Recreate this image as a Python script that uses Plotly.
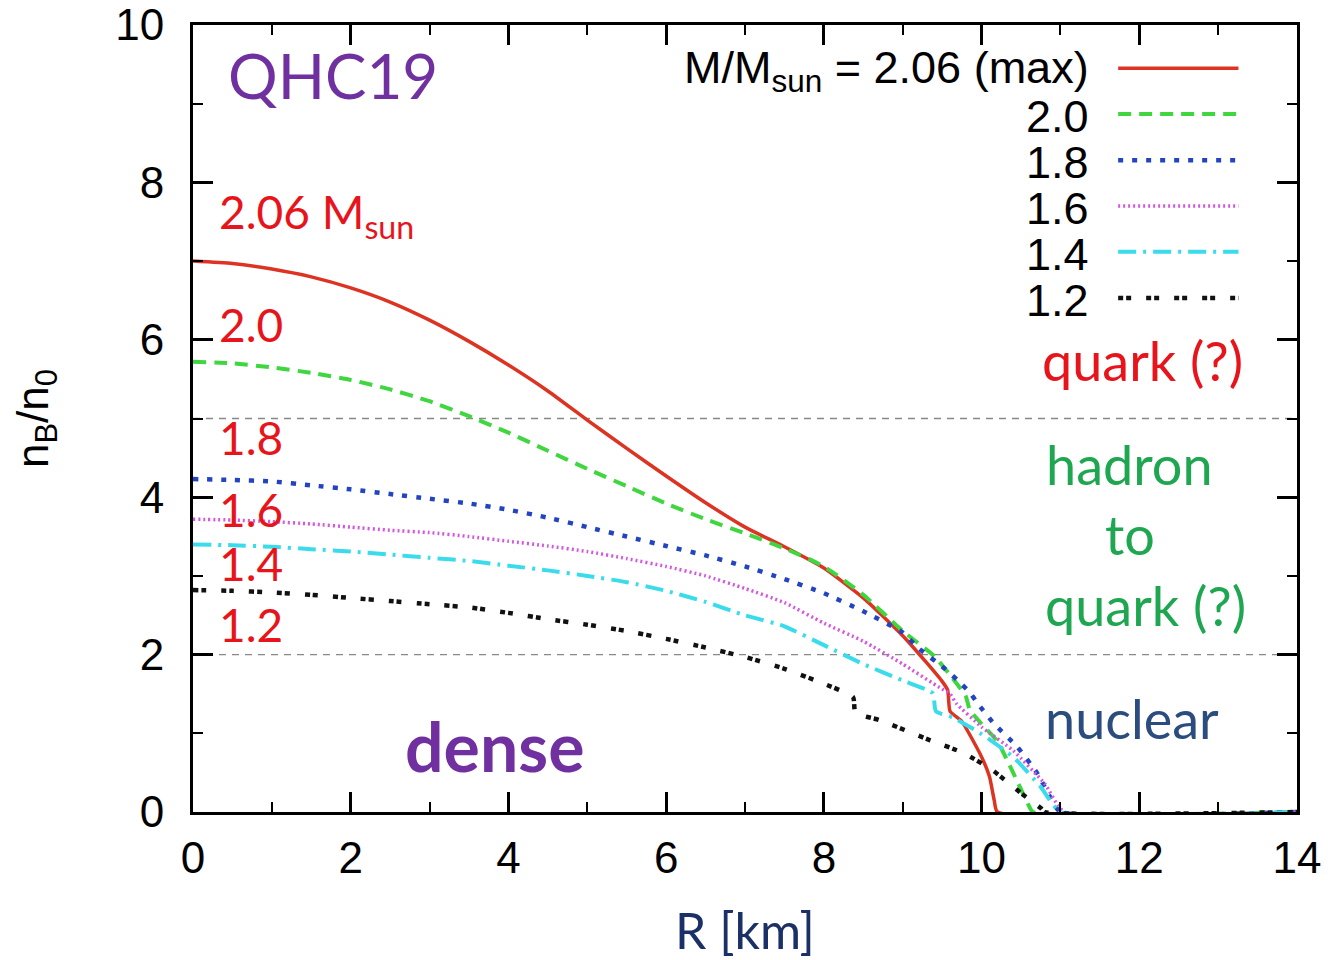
import plotly.graph_objects as go

# ---------------- data ----------------
masses = ["2.06", "2.0", "1.8", "1.6", "1.4", "1.2"]

r_206 = [0, 0.5, 1, 1.5, 2, 2.5, 3, 3.5, 4, 4.5, 5, 5.5, 6, 6.5, 7, 7.5, 8, 8.5, 9, 9.3, 9.5, 9.57, 9.6, 9.75, 10.0, 10.1, 10.16, 10.2, 14]
n_206 = [7.0, 6.97, 6.9, 6.8, 6.66, 6.48, 6.25, 5.98, 5.68, 5.35, 4.98, 4.62, 4.27, 3.93, 3.62, 3.37, 3.1, 2.72, 2.24, 1.9, 1.66, 1.55, 1.28, 1.15, 0.7, 0.45, 0.15, 0, 0]

r_200 = [0, 0.5, 1, 1.5, 2, 2.5, 3, 3.5, 4, 4.5, 5, 5.5, 6, 6.5, 7, 7.5, 8, 8.5, 9, 9.4, 9.6, 9.8, 9.85, 10.0, 10.2, 10.4, 10.6, 10.65, 14]
n_200 = [5.72, 5.7, 5.65, 5.58, 5.49, 5.37, 5.22, 5.03, 4.82, 4.59, 4.36, 4.14, 3.92, 3.72, 3.54, 3.35, 3.12, 2.76, 2.3, 1.98, 1.74, 1.47, 1.3, 1.12, 0.9, 0.5, 0.08, 0, 0]

r_180 = [0, 0.5, 1, 1.5, 2, 2.5, 3, 3.5, 4, 4.5, 5, 5.5, 6, 6.5, 7, 7.5, 8, 8.5, 9, 9.2, 9.5, 9.7, 9.85, 9.95, 10.15, 10.45, 10.7, 10.87, 11.0, 14]
n_180 = [4.23, 4.22, 4.2, 4.15, 4.1, 4.04, 3.98, 3.92, 3.84, 3.74, 3.62, 3.5, 3.38, 3.26, 3.12, 2.96, 2.78, 2.55, 2.28, 2.08, 1.85, 1.67, 1.52, 1.38, 1.13, 0.83, 0.5, 0.19, 0, 0]

r_160 = [0, 0.5, 1, 1.5, 2, 2.5, 3, 3.5, 4, 4.5, 5, 5.5, 6, 6.5, 7, 7.5, 8, 8.5, 9, 9.47, 9.6, 9.68, 10.0, 10.4, 10.8, 11.05, 14]
n_160 = [3.72, 3.71, 3.69, 3.66, 3.62, 3.58, 3.55, 3.5, 3.44, 3.38, 3.31, 3.22, 3.12, 3.0, 2.84, 2.66, 2.4, 2.17, 1.88, 1.58, 1.5, 1.38, 1.08, 0.78, 0.36, 0, 0]

r_140 = [0, 0.5, 1, 1.5, 2, 2.5, 3, 3.5, 4, 4.5, 5, 5.5, 6, 6.5, 7, 7.5, 8, 8.5, 9, 9.38, 9.42, 9.64, 10.0, 10.4, 10.75, 11.0, 14]
n_140 = [3.4, 3.39, 3.37, 3.34, 3.31, 3.27, 3.23, 3.19, 3.13, 3.07, 3.0, 2.92, 2.81, 2.67, 2.5, 2.36, 2.12, 1.88, 1.67, 1.51, 1.28, 1.2, 0.99, 0.7, 0.32, 0, 0]

r_120 = [0, 0.5, 1, 1.5, 2, 2.5, 3, 3.5, 4, 4.5, 5, 5.5, 6, 6.5, 7, 7.5, 8, 8.37, 8.4, 8.7, 9.35, 9.77, 10.14, 10.5, 10.75, 10.8, 14]
n_120 = [2.82, 2.81, 2.79, 2.76, 2.72, 2.68, 2.64, 2.6, 2.53, 2.45, 2.38, 2.3, 2.2, 2.09, 1.97, 1.82, 1.63, 1.46, 1.26, 1.17, 0.91, 0.75, 0.53, 0.24, 0.05, 0, 0]

series_r = [r_206, r_200, r_180, r_160, r_140, r_120]
series_n = [n_206, n_200, n_180, n_160, n_140, n_120]

legend_labels = ["M/M<sub>sun</sub> = 2.06 (max)", "2.0", "1.8", "1.6", "1.4", "1.2"]
curve_labels = ["2.06 M<sub>sun</sub>", "2.0", "1.8", "1.6", "1.4", "1.2"]
curve_label_y = [7.59, 6.19, 4.76, 3.84, 3.16, 2.38]

boundaries = [2, 5]

x_ticks = [0, 2, 4, 6, 8, 10, 12, 14]
y_ticks = [0, 2, 4, 6, 8, 10]

# ---------------- styles ----------------
colors = ["#DD3322", "#3FD63F", "#2344C0", "#D457E0", "#3ADCEB", "#111111"]
dashes = ["solid", "13px,8px", "5px,9px", "2px,3px", "18px,7px,3px,7px", "5px,3px,5px,15px"]
widths = [3.5, 4, 4.5, 3.5, 4, 4.5]

TXT_FONT = "Liberation Sans, Arial, Helvetica, sans-serif"
SLIDE_FONT = "Lato, Noto Sans, sans-serif"

fig = go.Figure()

for i in range(len(masses)):
    fig.add_trace(go.Scatter(
        x=series_r[i], y=series_n[i], mode="lines",
        name=masses[i],
        line=dict(color=colors[i], dash=dashes[i], width=widths[i], shape="spline", smoothing=0.5),
        showlegend=False,
    ))

# dashed region boundaries
for b in boundaries:
    fig.add_shape(type="line", xref="paper", x0=0, x1=1, yref="y", y0=b, y1=b,
                  line=dict(color="#888888", width=1.3, dash="7px,6px"), layer="below")

# custom legend (text on left, sample on right)
leg_y = [0.945, 0.887, 0.828, 0.770, 0.712, 0.653]
for i in range(len(masses)):
    fig.add_shape(type="line", xref="paper", yref="paper",
                  x0=0.838, x1=0.947, y0=leg_y[i], y1=leg_y[i],
                  line=dict(color=colors[i], dash=dashes[i], width=widths[i]))
    fig.add_annotation(xref="paper", yref="paper", x=0.813, y=leg_y[i] - 0.003,
                       text=legend_labels[i], showarrow=False, xanchor="right", yanchor="middle",
                       font=dict(family=TXT_FONT, size=45, color="black"))

# red mass labels on the curves
for i in range(len(masses)):
    fig.add_annotation(x=0.3, y=curve_label_y[i], xref="x", yref="y",
                       text=curve_labels[i], showarrow=False, xanchor="left", yanchor="middle",
                       font=dict(family=SLIDE_FONT, size=46, color="#E8141B"))

# slide annotations
fig.add_annotation(x=0.42, y=9.36, xref="x", yref="y", text="QHC19", showarrow=False,
                   xanchor="left", yanchor="middle",
                   font=dict(family=SLIDE_FONT, size=62, color="#7030A0"))
fig.add_annotation(x=2.66, y=0.85, xref="x", yref="y", text="<b>dense</b>", showarrow=False,
                   xanchor="left", yanchor="middle",
                   font=dict(family=SLIDE_FONT, size=68, color="#7030A0"))
fig.add_annotation(x=10.74, y=5.74, xref="x", yref="y", text="quark (?)", showarrow=False,
                   xanchor="left", yanchor="middle",
                   font=dict(family=SLIDE_FONT, size=54, color="#E8141B"))
fig.add_annotation(x=11.88, y=4.41, xref="x", yref="y", text="hadron", showarrow=False,
                   xanchor="center", yanchor="middle",
                   font=dict(family=SLIDE_FONT, size=54, color="#1EA650"))
fig.add_annotation(x=11.88, y=3.52, xref="x", yref="y", text="to", showarrow=False,
                   xanchor="center", yanchor="middle",
                   font=dict(family=SLIDE_FONT, size=54, color="#1EA650"))
fig.add_annotation(x=10.78, y=2.63, xref="x", yref="y", text="quark (?)", showarrow=False,
                   xanchor="left", yanchor="middle",
                   font=dict(family=SLIDE_FONT, size=54, color="#1EA650"))
fig.add_annotation(x=10.78, y=1.19, xref="x", yref="y", text="nuclear", showarrow=False,
                   xanchor="left", yanchor="middle",
                   font=dict(family=SLIDE_FONT, size=54, color="#2B4C7E"))

axis_common = dict(
    showline=True, linecolor="black", linewidth=3, mirror="ticks",
    ticks="inside", ticklen=20, tickwidth=2.5, tickcolor="black",
    showgrid=False, zeroline=False, automargin=False,
    ticklabeloverflow="allow",
    tickfont=dict(family=TXT_FONT, size=44, color="black"),
    minor=dict(ticks="inside", ticklen=10, tickwidth=2, tickcolor="black", dtick=1, showgrid=False),
)

fig.update_xaxes(range=[0, 14], tickvals=x_ticks, ticktext=[str(v) for v in x_ticks],
                 ticklabelstandoff=5,
                 title=dict(text="R [km]", standoff=34,
                            font=dict(family=SLIDE_FONT, size=50, color="#1B3066")),
                 **axis_common)
fig.update_yaxes(range=[0, 10], tickvals=y_ticks, ticktext=[str(v) for v in y_ticks],
                 ticklabelstandoff=17,
                 title=dict(text="n<sub>B</sub>/n<sub>0</sub>", standoff=64,
                            font=dict(family=TXT_FONT, size=44, color="black")),
                 **axis_common)

fig.update_layout(
    width=1332, height=960,
    margin=dict(l=185, r=43, t=17, b=156),
    plot_bgcolor="white", paper_bgcolor="white",
    showlegend=False,
)

fig.write_html("out.html")
